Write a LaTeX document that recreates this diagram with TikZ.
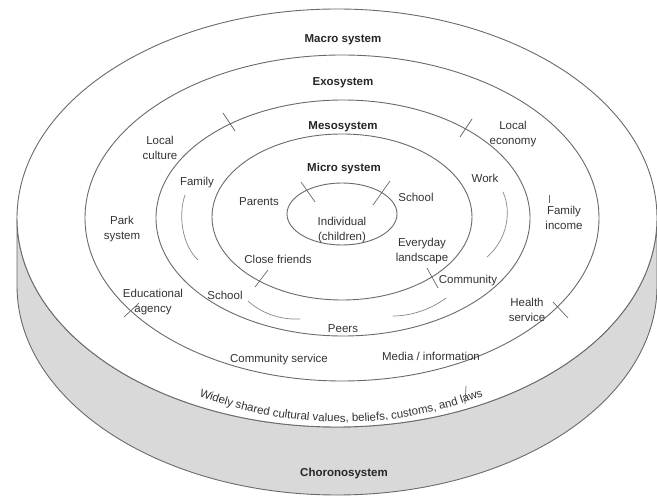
\documentclass[tikz,border=0pt]{standalone}
\usepackage{fontspec}
\setmainfont{Liberation Sans}
\usetikzlibrary{decorations.text}
\definecolor{ln}{HTML}{6A6A6A}
\definecolor{tx}{HTML}{333333}
\definecolor{side}{HTML}{D9D9D9}
\begin{document}
\begin{tikzpicture}[x=1pt,y=-1pt,
  ring/.style={draw=ln,line width=0.9pt},
  lbl/.style={text=tx,font=\fontsize{11.5}{15}\selectfont,align=center,inner sep=0pt},
  ttl/.style={text=black!85,font=\bfseries\fontsize{11.5}{14}\selectfont,inner sep=0pt},
  tickmark/.style={draw=ln,line width=0.7pt},
  flow/.style={draw=ln!80,line width=0.7pt,line cap=round}]
\useasboundingbox (0,0) rectangle (657,497);
% cylinder side
\fill[side,draw=ln,line width=0.9pt] (17,218) arc[start angle=180,end angle=0,x radius=320,y radius=209] -- (657,286) arc[start angle=0,end angle=180,x radius=320,y radius=209] -- cycle;
% rings
\path[ring,fill=white] (337,218) ellipse[x radius=320,y radius=209];
\path[ring] (342,218) ellipse[x radius=257,y radius=163];
\path[ring] (343,218) ellipse[x radius=187,y radius=118];
\path[ring] (342,217) ellipse[x radius=130,y radius=83];
\path[ring] (342,214) ellipse[x radius=55,y radius=31];
% titles
\node[ttl] (macro) at (343,40) {Macro system};
\node[ttl] (exo) at (343,83) {Exosystem};
\node[ttl] (meso) at (343,127) {Mesosystem};
\node[ttl] (micro) at (344,169) {Micro system};
\node[ttl] (chrono) at (344,474) {Choronosystem};
% micro labels
\node[lbl] (parents) at (259,202) {Parents};
\node[lbl] (school1) at (416,197) {School};
\node[lbl] (indiv) at (342,230) {Individual\\(children)};
\node[lbl] (friends) at (278,259) {Close friends};
\node[lbl] (everyday) at (422,251) {Everyday\\landscape};
% meso labels
\node[lbl] (school2) at (225,295) {School};
\node[lbl] (peers) at (343,329) {Peers};
\node[lbl] (community) at (468,281) {Community};
\node[lbl] (family) at (197,183) {Family};
\node[lbl] (work) at (485,178) {Work};
% exo labels
\node[lbl] (culture) at (160,148) {Local\\culture};
\node[lbl] (economy) at (513,134) {Local\\economy};
\node[lbl] (park) at (122,229) {Park\\system};
\node[lbl] (income) at (564,218) {Family\\income};
\node[lbl] (edu) at (153,302) {Educational\\agency};
\node[lbl] (health) at (527,310) {Health\\service};
\node[lbl] (commserv) at (279,360) {Community service};
\node[lbl] (media) at (431,356) {Media / information};
% macro curved text
\path[decorate,decoration={text along path,text align=center,
  text={|\fontsize{11.5}{14}\selectfont\color{tx}|Widely shared cultural values, beliefs, customs, and laws}}]
  (189,392) .. controls (285,432) and (400,432) .. (493,392);
% tick marks
\draw[tickmark] (223,113) -- (235,131);
\draw[tickmark] (472,119) -- (460,137);
\draw[tickmark] (301,182) -- (315,202);
\draw[tickmark] (390,181) -- (373,205);
\draw[tickmark] (268,270) -- (255,287);
\draw[tickmark] (427,268) -- (438,288);
\draw[tickmark] (553,302) -- (568,318);
\draw[tickmark] (139,303) -- (124,317);
\draw[tickmark] (549,195) -- (549,203);
\draw[tickmark] (466,386) -- (465,404);
% interaction arcs
\draw[flow] (185,195) .. controls (178,215) and (182,245) .. (198,260);
\draw[flow] (503,192) .. controls (512,212) and (507,240) .. (487,257);
\draw[flow] (248,301) .. controls (262,314) and (282,320) .. (300,319);
\draw[flow] (446,298) .. controls (430,310) and (410,316) .. (393,316);
\end{tikzpicture}
\end{document}
